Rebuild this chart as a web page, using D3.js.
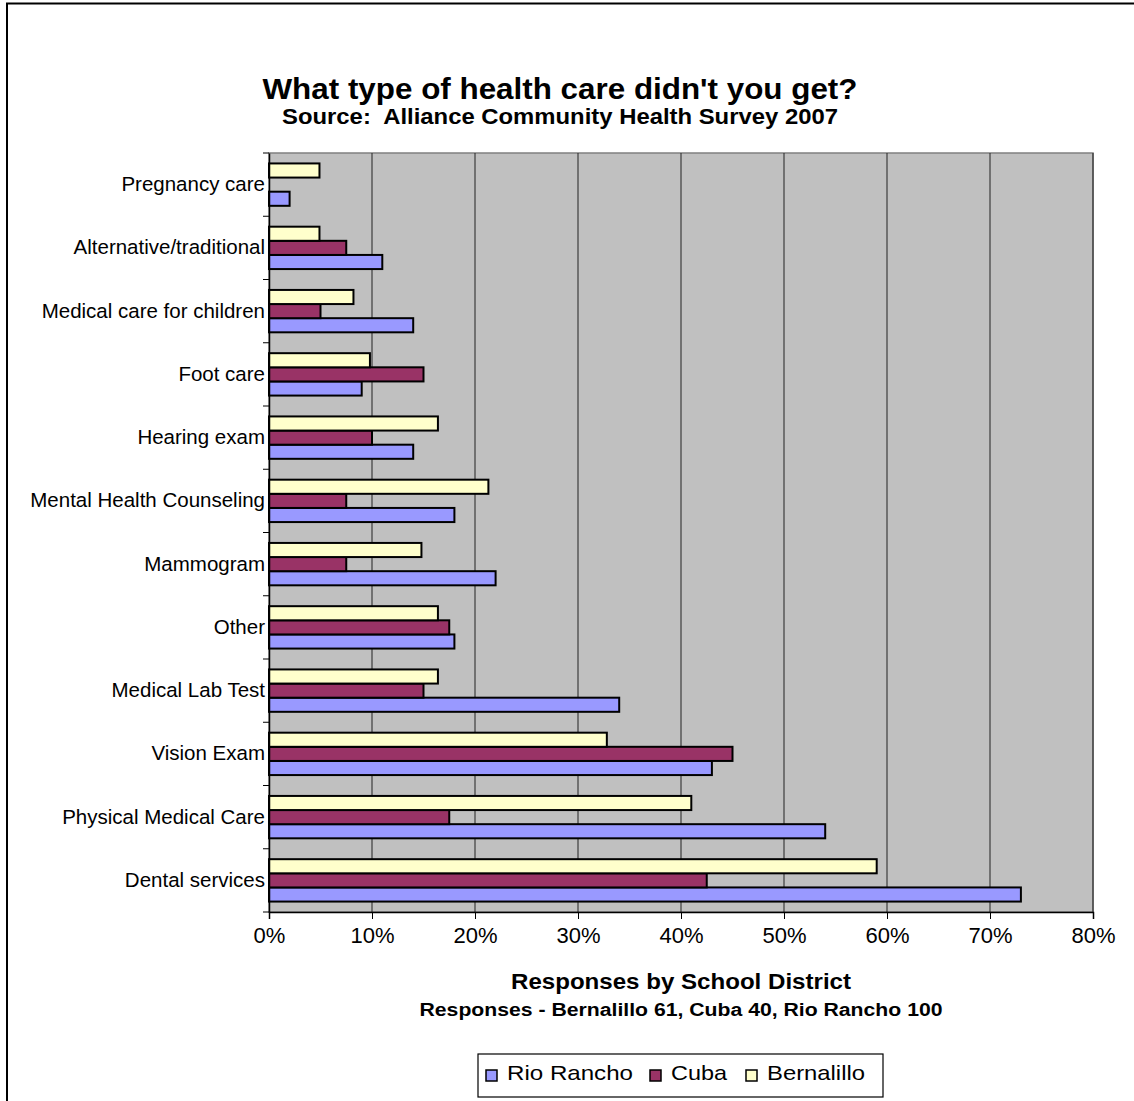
<!DOCTYPE html>
<html><head><meta charset="utf-8">
<script src="https://cdn.jsdelivr.net/npm/d3@7"></script>
<style>body{margin:0;background:#fff}svg{display:block;font-family:"Liberation Sans",Arial,sans-serif}text{white-space:pre}</style>
</head><body>
<svg id="c" width="1134" height="1101"></svg>
<script>
const categories = ["Pregnancy care","Alternative/traditional","Medical care for children","Foot care","Hearing exam","Mental Health Counseling","Mammogram","Other","Medical Lab Test","Vision Exam","Physical Medical Care","Dental services"];
const seriesNames = ["Rio Rancho","Cuba","Bernalillo"];
const rioRancho = [0.02,0.11,0.14,0.09,0.14,0.18,0.22,0.18,0.34,0.43,0.54,0.73];
const cuba      = [0,0.075,0.05,0.15,0.10,0.075,0.075,0.175,0.15,0.45,0.175,0.425];
const bernalillo= [0.049,0.049,0.082,0.098,0.164,0.213,0.148,0.164,0.164,0.328,0.41,0.59];
const xTicks = [0,0.1,0.2,0.3,0.4,0.5,0.6,0.7,0.8];
const colors = {"Rio Rancho":"#9999FF","Cuba":"#993366","Bernalillo":"#FFFFCC"};
const seriesValues = {"Rio Rancho":rioRancho,"Cuba":cuba,"Bernalillo":bernalillo};

const svg = d3.select("#c");
const L=269,R=1093,T=153,B=912;

svg.append("rect").attr("x",7).attr("y",3.5).attr("width",1140).attr("height",1110)
  .attr("fill","#fff").attr("stroke","#000").attr("stroke-width",2);

const x = d3.scaleLinear().domain([0,0.8]).range([L,R]);
const y = d3.scaleBand().domain(categories).range([T,B]).padding(0);
const bw = y.bandwidth();
const inner = d3.scaleBand().domain(["Bernalillo","Cuba","Rio Rancho"]).range([bw*0.165,bw*0.835]).padding(0);

svg.append("rect").attr("x",L).attr("y",T).attr("width",R-L).attr("height",B-T)
  .attr("fill","#C0C0C0").attr("stroke","#808080").attr("stroke-width",1.5);

// gridlines
svg.append("g").selectAll("line").data(xTicks.slice(1)).join("line")
  .attr("x1",d=>x(d)).attr("x2",d=>x(d)).attr("y1",T).attr("y2",B)
  .attr("stroke","#222").attr("stroke-width",1);

// bars
const rows = [];
categories.forEach((c,i)=>seriesNames.forEach(s=>rows.push({c,s,v:seriesValues[s][i]})));
svg.append("g").selectAll("rect").data(rows.filter(d=>d.v>0)).join("rect")
  .attr("x",x(0)).attr("y",d=>y(d.c)+inner(d.s))
  .attr("width",d=>x(d.v)-x(0)).attr("height",inner.bandwidth())
  .attr("fill",d=>colors[d.s]).attr("stroke","#000").attr("stroke-width",2);

// x axis
const xa = svg.append("g").attr("transform",`translate(0,${B})`)
  .call(d3.axisBottom(x).tickValues(xTicks).tickFormat(d3.format(".0%")).tickSize(7).tickPadding(8));
xa.select(".domain").attr("stroke","#000").attr("stroke-width",1.5);
xa.selectAll(".tick line").attr("stroke","#000");
xa.selectAll("text").attr("font-size",22).attr("fill","#000").attr("font-family","Liberation Sans, Arial, sans-serif");

// y axis
const ya = svg.append("g").attr("transform",`translate(${L},0)`)
  .call(d3.axisLeft(y).tickSize(0).tickPadding(8));
ya.select(".domain").attr("stroke","#000").attr("stroke-width",1.5);
ya.selectAll(".tick text").attr("font-size",20.5).attr("fill","#000").attr("x",-4)
  .attr("font-family","Liberation Sans, Arial, sans-serif");
svg.append("g").selectAll("line").data(categories.concat(["__end"])).join("line")
  .attr("x1",L-6).attr("x2",L)
  .attr("y1",(d,i)=>i<categories.length?y(d):B).attr("y2",(d,i)=>i<categories.length?y(d):B)
  .attr("stroke","#000");

// titles (text stretched horizontally as in the reference)
function stretched(xp,yp,size,weight,str,w){
  return svg.append("text").attr("x",xp).attr("y",yp).attr("text-anchor","middle")
    .attr("font-size",size).attr("font-weight",weight)
    .attr("textLength",w).attr("lengthAdjust","spacingAndGlyphs").text(str);
}
const cx=560;
stretched(cx,99,29,"bold","What type of health care didn't you get?",595);
stretched(cx,124,22,"bold","Source:  Alliance Community Health Survey 2007",556);
const ax=(L+R)/2;
stretched(ax,989,22,"bold","Responses by School District",340);
stretched(ax,1016,18,"bold","Responses - Bernalillo 61, Cuba 40, Rio Rancho 100",523);

// legend
svg.append("rect").attr("x",478).attr("y",1054).attr("width",405).attr("height",43)
  .attr("fill","#fff").attr("stroke","#000").attr("stroke-width",1.2);
const lx = {"Rio Rancho":486,"Cuba":650,"Bernalillo":746};
const lw = {"Rio Rancho":126,"Cuba":56,"Bernalillo":98};
const lg = svg.append("g").selectAll("g").data(seriesNames).join("g")
  .attr("transform",d=>`translate(${lx[d]},1070)`);
lg.append("rect").attr("width",11).attr("height",11).attr("fill",d=>colors[d]).attr("stroke","#000").attr("stroke-width",1.5);
lg.append("text").attr("x",21).attr("y",10).attr("font-size",21)
  .attr("textLength",d=>lw[d]).attr("lengthAdjust","spacingAndGlyphs").text(d=>d);
</script>
</body></html>
